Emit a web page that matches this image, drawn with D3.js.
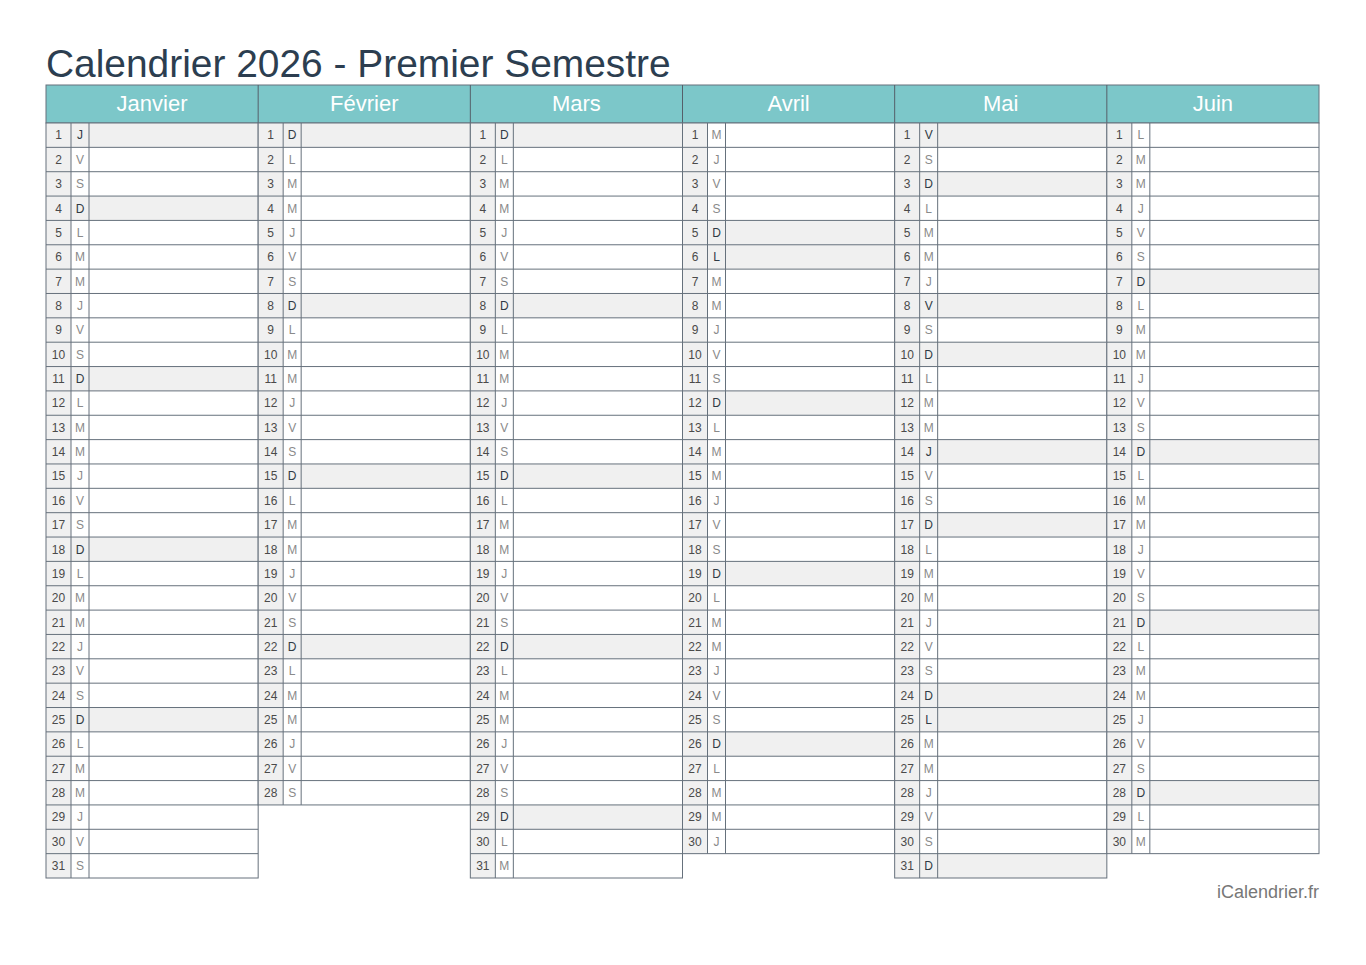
<!DOCTYPE html>
<html><head><meta charset="utf-8">
<script src="https://cdn.jsdelivr.net/npm/d3@7"></script>
<style>body{margin:0;background:#fff}svg{display:block}</style>
</head><body><svg id="c" width="1366" height="965"></svg>
<script>
const title = "Calendrier 2026 - Premier Semestre";
const year = 2026;
const months = ["Janvier","Février","Mars","Avril","Mai","Juin"];
const daysInMonth = [31,28,31,30,31,30];
const dayLetters = ["D","L","M","M","J","V","S"]; // Sunday first (getDay order)
const holidays = ["1-1","4-6","5-1","5-8","5-14","5-25"]; // month-day
const footer = "iCalendrier.fr";

const svg = d3.select("#c");
const font = "'Liberation Sans', Arial, Helvetica, sans-serif";
const left = 46, right = 1319, headTop = 85, headBot = 123, bottom = 878;
const x = d3.scaleBand().domain(months).range([left, right]);
const y = d3.scaleBand().domain(d3.range(1, 32)).range([headBot, bottom]);
const numW = 25, letW = 18;
const lineC = "#66717c", shade = "#f0f0f0";

svg.append("text").attr("x", 46).attr("y", 77).attr("font-family", font)
  .attr("font-size", 38.9).attr("fill", "#2c3e50").text(title);

// header
svg.append("rect").attr("x", left).attr("y", headTop).attr("width", right-left)
  .attr("height", headBot-headTop).attr("fill", "#7cc7c9").attr("stroke", lineC).attr("stroke-width", 1);
months.forEach((m, i) => {
  if (i > 0) svg.append("line").attr("x1", x(m)).attr("x2", x(m)).attr("y1", headTop).attr("y2", headBot)
    .attr("stroke", "#555f69").attr("stroke-width", 1);
  svg.append("text").attr("x", x(m) + x.bandwidth()/2).attr("y", 110.5).attr("text-anchor", "middle")
    .attr("font-family", font).attr("font-size", 22).attr("fill", "#fff").text(m);
});

const g = svg.append("g");
months.forEach((m, mi) => {
  const x0 = x(m), w = x.bandwidth();
  for (let d = 1; d <= daysInMonth[mi]; d++) {
    const dt = new Date(year, mi, d);
    const wd = dt.getDay();
    const special = wd === 0 || holidays.includes((mi+1) + "-" + d);
    const y0 = y(d), h = y.bandwidth();
    g.append("rect").attr("x", x0).attr("y", y0).attr("width", numW).attr("height", h).attr("fill", shade);
    g.append("rect").attr("x", x0+numW).attr("y", y0).attr("width", letW).attr("height", h).attr("fill", special ? shade : "#fff");
    g.append("rect").attr("x", x0+numW+letW).attr("y", y0).attr("width", w-numW-letW).attr("height", h).attr("fill", special ? shade : "#fff");
    g.append("text").attr("x", x0 + numW/2).attr("y", y0 + h/2 + 4.3).attr("text-anchor", "middle")
      .attr("font-family", font).attr("font-size", 12).attr("fill", "#4a4a4a").text(d);
    g.append("text").attr("x", x0 + numW + letW/2).attr("y", y0 + h/2 + 4.3).attr("text-anchor", "middle")
      .attr("font-family", font).attr("font-size", 12).attr("fill", special ? "#2f3a44" : "#8a8a8a").text(dayLetters[wd]);
  }
  const yEnd = y(daysInMonth[mi]) + y.bandwidth();
  for (let d = 2; d <= daysInMonth[mi]; d++) {
    g.append("line").attr("x1", x0).attr("x2", x0+w).attr("y1", y(d)).attr("y2", y(d)).attr("stroke", lineC).attr("stroke-width", 1);
  }
  [x0+numW, x0+numW+letW].forEach(xx => g.append("line").attr("x1", xx).attr("x2", xx).attr("y1", headBot).attr("y2", yEnd).attr("stroke", lineC).attr("stroke-width", 1));
  g.append("rect").attr("x", x0).attr("y", headBot).attr("width", w).attr("height", yEnd-headBot)
    .attr("fill", "none").attr("stroke", lineC).attr("stroke-width", 1);
});

svg.append("text").attr("x", 1319).attr("y", 898).attr("text-anchor", "end").attr("font-family", font)
  .attr("font-size", 18).attr("fill", "#777").text(footer);
</script></body></html>
